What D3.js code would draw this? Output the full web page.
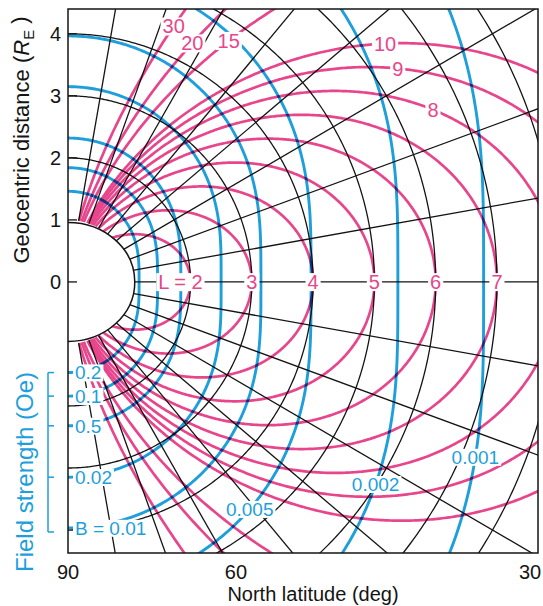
<!DOCTYPE html>
<html><head><meta charset="utf-8">
<script src="https://cdn.jsdelivr.net/npm/d3@7"></script>
<style>
body{margin:0;background:#fff}
text{font-family:"Liberation Sans",Arial,Helvetica,sans-serif}
</style>
</head><body>
<svg id="c" width="543" height="606"></svg>
<script>
// ---------------- data ----------------
const shellL = [2, 3, 4, 5, 6, 7, 8, 9, 10, 15, 20, 30];
const equatorLabelL = [2, 3, 4, 5, 6, 7];
const equatorLabelText = ["L = 2", "3", "4", "5", "6", "7"];
const upperLabelL = [30, 20, 15, 10, 9, 8];
const upperLabelLat = [67.3, 62.2, 56, 36.6, 32.6, 25];
const upperLabelText = ["30", "20", "15", "10", "9", "8"];
const fieldB = [0.2, 0.1, 0.05, 0.02, 0.01, 0.005, 0.002, 0.001];
const poleLabelB = [0.2, 0.1, 0.05, 0.02, 0.01];
const poleLabelText = ["0.2", "0.1", "0.5", "0.02", "B = 0.01"];
const curveLabelB = [0.005, 0.002, 0.001];
const curveLabelLat = [-51, -33, -23];
const curveLabelText = ["0.005", "0.002", "0.001"];
const radialLats = [-80, -70, -60, -50, -40, -30, -20, -10, 10, 20, 30, 40, 50, 60, 70, 80];
const circleR = [2, 3, 4, 5, 6, 7, 8, 9];
const yTicks = [0, 1, 2, 3, 4];
const latTicks = [90, 60, 30];
const B0 = 0.312; // equatorial surface field (Oe)

// ---------------- setup ----------------
const PINK = "#e8468c", BLUE = "#1e9fdc", INK = "#141414";
const svg = d3.select("#c");
const x = d3.scaleLinear().domain([0, 7.67]).range([68, 538]);
const y = d3.scaleLinear().domain([-4.37, 4.4]).range([553, 9]);
const latScale = d3.scaleLinear().domain([90, 60, 30]).range([0, 2.74, 7.54]);
const rad = d => d * Math.PI / 180;
const line = d3.line().x(d => x(d[0])).y(d => y(d[1]));

svg.append("defs").append("clipPath").attr("id", "plot")
  .append("rect").attr("x", x(0)).attr("y", y(4.4))
  .attr("width", x(7.67) - x(0)).attr("height", y(-4.37) - y(4.4));

const plot = svg.append("g").attr("clip-path", "url(#plot)");

// black circles
const gBlack = plot.append("g").attr("fill", "none").attr("stroke", INK).attr("stroke-width", 1.3);
circleR.forEach(r => {
  const pts = d3.range(-90, 90.01, 0.5).map(a => [r * Math.cos(rad(a)), r * Math.sin(rad(a))]);
  gBlack.append("path").attr("d", line(pts));
});
// radial lines
radialLats.forEach(a => {
  gBlack.append("path").attr("d", line([[Math.cos(rad(a)), Math.sin(rad(a))], [14 * Math.cos(rad(a)), 14 * Math.sin(rad(a))]]));
});
// equator
gBlack.append("path").attr("d", line([[1, 0], [8, 0]]));

// pink field lines (dipole L shells)
const gPink = plot.append("g").attr("fill", "none").attr("stroke", PINK).attr("stroke-width", 2.7)
  .style("mix-blend-mode", "multiply");
function shellPt(L, a) { const c = Math.cos(rad(a)); return [L * c * c * c, L * c * c * Math.sin(rad(a))]; }
shellL.forEach(L => {
  const a0 = Math.acos(1 / Math.sqrt(L)) * 180 / Math.PI;
  const pts = d3.range(-a0, a0 + 0.001, 0.2).map(a => shellPt(L, a));
  pts.push(shellPt(L, a0));
  gPink.append("path").attr("d", line(pts));
});

// blue constant-B contours
const gBlue = plot.append("g").attr("fill", "none").attr("stroke", BLUE).attr("stroke-width", 2.9)
  .style("mix-blend-mode", "multiply");
function bPt(B, a) {
  const r = Math.cbrt(B0 / B) * Math.pow(1 + 3 * Math.sin(rad(a)) ** 2, 1 / 6);
  return [r * Math.cos(rad(a)), r * Math.sin(rad(a))];
}
fieldB.forEach(B => {
  const pts = d3.range(-90, 90.01, 0.5).map(a => bPt(B, a));
  gBlue.append("path").attr("d", line(pts));
});

// Earth
plot.append("ellipse").attr("cx", x(0)).attr("cy", y(0))
  .attr("rx", x(1.09) - x(0)).attr("ry", y(0) - y(0.96))
  .attr("fill", "#fff").attr("stroke", INK).attr("stroke-width", 1.5);

// y ticks (inside)
svg.append("g").selectAll("line").data(yTicks).join("line")
  .attr("x1", x(0)).attr("x2", x(0) + 9).attr("y1", d => y(d)).attr("y2", d => y(d))
  .attr("stroke", INK).attr("stroke-width", 1.3);

// frame
svg.append("rect").attr("x", x(0)).attr("y", y(4.4))
  .attr("width", x(7.67) - x(0)).attr("height", y(-4.37) - y(4.4))
  .attr("fill", "none").attr("stroke", INK).attr("stroke-width", 1.5);

// boxed labels
function boxed(g, px, py, text, color, size, anchor) {
  const gg = g.append("g");
  const t = gg.append("text").attr("x", px).attr("y", py).attr("dy", "0.36em")
    .attr("text-anchor", anchor || "middle").attr("fill", color)
    .attr("font-size", size).text(text);
  const bb = t.node().getBBox();
  gg.insert("rect", "text").attr("x", bb.x - 2).attr("y", bb.y + 2)
    .attr("width", bb.width + 4).attr("height", bb.height - 4).attr("fill", "#fff");
  return gg;
}
const gLab = svg.append("g");
equatorLabelL.forEach((L, i) => {
  if (i === 0) boxed(gLab, x(L) + 12, y(0), equatorLabelText[i], PINK, 20, "end");
  else boxed(gLab, x(L), y(0), equatorLabelText[i], PINK, 20);
});
upperLabelL.forEach((L, i) => {
  const p = shellPt(L, upperLabelLat[i]);
  boxed(gLab, x(p[0]), y(p[1]), upperLabelText[i], PINK, 20);
});
curveLabelB.forEach((B, i) => {
  const p = bPt(B, curveLabelLat[i]);
  boxed(gLab, x(p[0]), y(p[1]), curveLabelText[i], BLUE, 19);
});
poleLabelB.forEach((B, i) => {
  const p = bPt(B, -90);
  boxed(gLab, x(0) + 7, y(p[1]), poleLabelText[i], BLUE, 19, "start");
});

// field-strength bracket
const bys = poleLabelB.map(B => y(bPt(B, -90)[1]));
const gBr = svg.append("g").attr("stroke", BLUE).attr("stroke-width", 1.5).attr("fill", "none");
gBr.append("line").attr("x1", 48).attr("x2", 48).attr("y1", bys[0]).attr("y2", bys[bys.length - 1] + 4);
bys.forEach((v, i) => gBr.append("line").attr("x1", 48).attr("x2", 54)
  .attr("y1", i === bys.length - 1 ? v + 4 : v).attr("y2", i === bys.length - 1 ? v + 4 : v));

// y tick labels
svg.append("g").selectAll("text").data(yTicks).join("text")
  .attr("x", 61).attr("y", d => y(d)).attr("dy", "0.36em").attr("text-anchor", "end")
  .attr("font-size", 20).attr("fill", INK).text(d => d);

// x tick labels
svg.append("g").selectAll("text").data(latTicks).join("text")
  .attr("x", d => x(latScale(d))).attr("y", 579).attr("text-anchor", "middle")
  .attr("font-size", 20).attr("fill", INK).text(d => d);

// axis titles
svg.append("text").attr("x", 313).attr("y", 601).attr("text-anchor", "middle")
  .attr("font-size", 20).attr("fill", INK).text("North latitude (deg)");

const yt = svg.append("text").attr("transform", "translate(29,140) rotate(-90)")
  .attr("text-anchor", "middle").attr("font-size", 22).attr("fill", INK);
yt.append("tspan").text("Geocentric distance (");
yt.append("tspan").attr("font-style", "italic").text("R");
yt.append("tspan").attr("font-size", 15).attr("dy", "0.3em").text("E");
yt.append("tspan").attr("dy", "-0.3em").text(" )");

svg.append("text").attr("transform", "translate(33,472) rotate(-90)")
  .attr("text-anchor", "middle").attr("font-size", 24).attr("fill", BLUE)
  .text("Field strength (Oe)");
</script>
</body></html>
